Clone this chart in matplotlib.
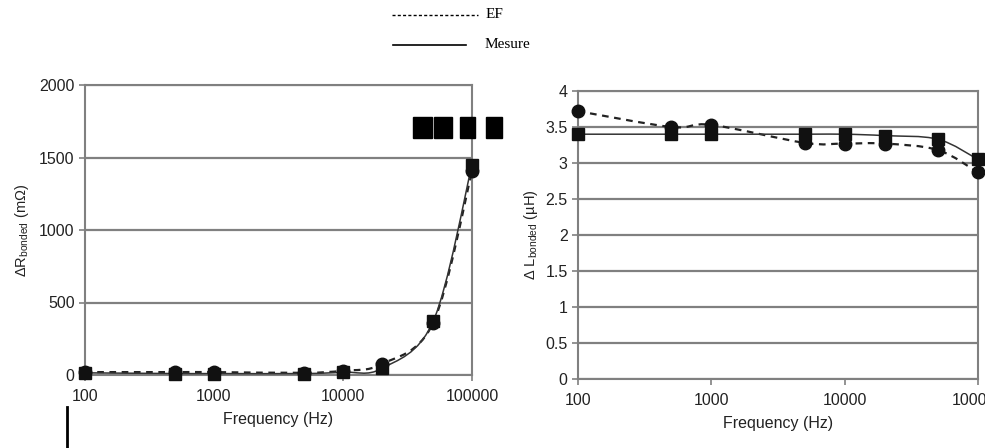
import numpy as np
import matplotlib
matplotlib.use("Agg")
import matplotlib.pyplot as plt
from matplotlib.path import Path
from matplotlib.patches import PathPatch, Rectangle
from matplotlib.lines import Line2D

plt.rcParams['font.family'] = ['Liberation Sans', 'DejaVu Sans']
plt.rcParams['mathtext.fontset'] = 'custom'
plt.rcParams['mathtext.rm'] = 'Liberation Sans'

freq = [100, 500, 1000, 5000, 10000, 20000, 50000, 100000]
dR_mesure = [15, 10, 10, 10, 20, 45, 370, 1450]
dR_ef = [20, 20, 20, 15, 30, 75, 360, 1405]
dL_mesure = [3.40, 3.40, 3.40, 3.40, 3.40, 3.38, 3.33, 3.05]
dL_ef = [3.72, 3.50, 3.53, 3.28, 3.27, 3.27, 3.18, 2.87]

r_ticks = [0, 500, 1000, 1500, 2000]
l_ticks = [0, 0.5, 1, 1.5, 2, 2.5, 3, 3.5, 4]
l_ticklabels = ['0', '0.5', '1', '1.5', '2', '2.5', '3', '3.5', '4']
x_ticks = [100, 1000, 10000, 100000]
x_ticklabels = ['100', '1000', '10000', '100000']

W, H = 985, 448
fig = plt.figure(figsize=(W / 100, H / 100), dpi=100)


def smooth_path(xs, ys):
    lx = np.log10(np.asarray(xs, float))
    y = np.asarray(ys, float)
    P = np.column_stack([lx, y])
    n = len(P)
    verts = [P[0]]
    codes = [Path.MOVETO]
    for i in range(n - 1):
        p0 = P[i - 1] if i > 0 else P[i]
        p1, p2 = P[i], P[i + 1]
        p3 = P[i + 2] if i + 2 < n else P[i + 1]
        c1 = p1 + (p2 - p0) / 6.0
        c2 = p2 - (p3 - p1) / 6.0
        verts += [c1, c2, p2]
        codes += [Path.CURVE4] * 3
    V = np.array(verts)
    V[:, 0] = 10 ** V[:, 0]
    return Path(V, codes)


def px_axes(x0, y0, x1, y1):
    return fig.add_axes([x0 / W, 1 - y1 / H, (x1 - x0) / W, (y1 - y0) / H])


gray = '#808080'
tc = '#222222'


def style(ax, yticks, ylabels, ylim):
    ax.set_xscale('log')
    ax.set_xlim(100, 100000)
    ax.set_ylim(*ylim)
    ax.set_xticks(x_ticks)
    ax.set_xticklabels(x_ticklabels)
    ax.xaxis.set_minor_locator(matplotlib.ticker.NullLocator())
    ax.set_yticks(yticks)
    ax.set_yticklabels(ylabels)
    ax.tick_params(axis='both', colors=gray, labelcolor=tc, labelsize=11.5,
                   length=4, width=1.2, direction='out')
    ax.tick_params(axis='x', pad=6)
    for s in ax.spines.values():
        s.set_color(gray)
        s.set_linewidth(1.5)
    for yv in yticks:
        ax.axhline(yv, color=gray, lw=1.6, zorder=1)
    ax.set_xlabel('Frequency (Hz)', fontsize=11.5, color=tc, labelpad=6)


def draw(ax, ym, ye):
    ax.add_patch(PathPatch(smooth_path(freq, ye), fill=False, color='#222222',
                           lw=1.6, linestyle=(0, (3, 2.5)), zorder=3))
    ax.add_patch(PathPatch(smooth_path(freq, ym), fill=False, color='#333333',
                           lw=1.1, zorder=3))
    ax.plot(freq, ye, linestyle='none', marker='o', ms=9, color='#111111',
            zorder=4, clip_on=False)
    ax.plot(freq, ym, linestyle='none', marker='s', ms=8.5, color='#111111',
            zorder=5, clip_on=False)


ax1 = px_axes(85, 85, 472, 375)
style(ax1, r_ticks, [str(v) for v in r_ticks], (0, 2000))
draw(ax1, dR_mesure, dR_ef)
ax1.set_ylabel('ΔR$_{\\mathrm{bonded}}$ (mΩ)', fontsize=10.5, color=tc, labelpad=6)

ax2 = px_axes(578, 91, 978, 379)
style(ax2, l_ticks, l_ticklabels, (0, 4))
draw(ax2, dL_mesure, dL_ef)
ax2.set_ylabel('Δ L$_{\\mathrm{bonded}}$ (µH)', fontsize=10.5, color=tc, labelpad=4)


def fx(x):
    return x / W


def fy(y):
    return 1 - y / H


fig.add_artist(Line2D([fx(392), fx(478)], [fy(15), fy(15)], color='black',
                      lw=1.0, linestyle=(0, (2.2, 1.6))))
fig.add_artist(Line2D([fx(393), fx(466)], [fy(45), fy(45)], color='black', lw=1.2))
fig.text(fx(486), fy(14), 'EF', family=['Liberation Serif', 'DejaVu Serif'],
         fontsize=11, va='center', ha='left')
fig.text(fx(485), fy(44), 'Mesure', family=['Liberation Serif', 'DejaVu Serif'],
         fontsize=11, va='center', ha='left')

for x0, x1 in [(413, 432), (434, 452), (460, 475), (486, 502)]:
    fig.add_artist(Rectangle((fx(x0), fy(138)), (x1 - x0) / W, 21 / H,
                             transform=fig.transFigure, color='black'))

fig.add_artist(Line2D([fx(67), fx(67)], [fy(407), fy(447)], color='black', lw=2))

fig.savefig('out.png', dpi=100)
